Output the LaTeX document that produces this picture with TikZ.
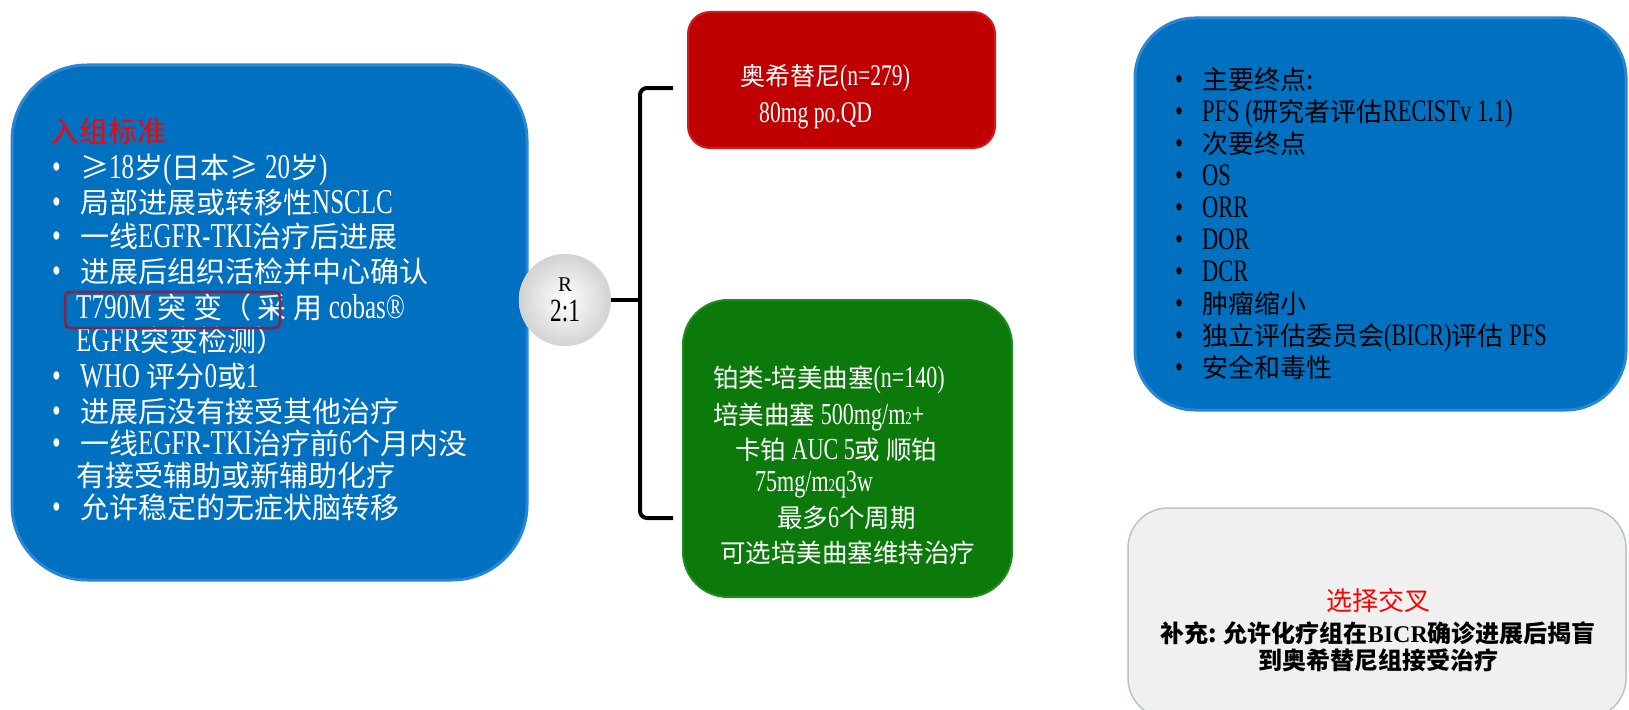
\documentclass[tikz,border=0pt]{standalone}
\usepackage{fontspec}
\setmainfont{Liberation Serif}
\newfontfamily\cjk{Noto Sans CJK SC}
\newfontfamily\lat[FakeStretch=0.72,Scale=1.2]{Liberation Serif}
\newcommand\E[1]{{\lat #1}}
\newcommand\sm[1]{{\fontsize{15}{15}\selectfont #1}}
\newcommand\bl{\makebox[30pt][l]{\hspace*{2pt}{\lat •}}}
\newcommand\ct{\hspace*{26pt}}
\newcommand\br{\makebox[27pt][l]{{\lat •}}}
\definecolor{boxblue}{HTML}{0070C0}
\definecolor{boxblueedge}{HTML}{2A86D4}
\definecolor{boxred}{HTML}{C00000}
\definecolor{boxrededge}{HTML}{D41A1A}
\definecolor{boxgreen}{HTML}{0B7A0B}
\definecolor{boxgreenedge}{HTML}{1E8C1E}
\definecolor{boxgrey}{HTML}{F0F0F0}
\definecolor{boxgreyedge}{HTML}{B4C6C6}
\definecolor{hlred}{HTML}{8E2040}
\tikzset{
  box/.style={rectangle, inner sep=0pt},
  bluebox/.style={box, fill=boxblue, draw=boxblueedge, line width=3pt},
  redbox/.style={box, fill=boxred, draw=boxrededge, line width=2pt, rounded corners=22pt},
  greenbox/.style={box, fill=boxgreen, draw=boxgreenedge, line width=2pt, rounded corners=45pt},
  greybox/.style={box, fill=boxgrey, draw=boxgreyedge, line width=1.5pt, rounded corners=40pt},
  txt/.style={inner sep=0pt, align=left, anchor=west},
  hlbox/.style={rectangle, draw=hlred, line width=2.5pt, rounded corners=5pt, inner sep=0pt},
  randc/.style={circle, inner sep=0pt, minimum size=92pt, shading=radial, inner color=white, outer color=gray!35, draw=gray!25, align=center, font=\rmfamily},
  brk/.style={draw=black, line width=4pt, rounded corners=7pt},
}
\begin{document}
\begin{tikzpicture}[x=1pt,y=-1pt]
\fill[white] (0,0) rectangle (1629,709);
\clip (0,0) rectangle (1629,709);

% boxes
\node[bluebox, rounded corners=75pt, minimum width=515pt, minimum height=515pt] (crit) at (269.5,322.5) {};
\node[redbox, minimum width=307pt, minimum height=136pt] (osi) at (841.5,80) {};
\node[greenbox, minimum width=329pt, minimum height=297pt] (chemo) at (847.5,448.5) {};
\node[bluebox, rounded corners=60pt, minimum width=491pt, minimum height=392pt] (endp) at (1380.5,214) {};
\node[greybox, minimum width=498pt, minimum height=210pt] (cross) at (1377,613) {};

% left text
\node[txt, text=white, font=\cjk\fontsize{29}{34}\selectfont] (crittxt) at (50,319.5) {%
\textcolor{red}{入组标准}\\[2pt]
\bl ≥\E{18}岁\E{(}日本≥ \E{20}岁\E{)}\\[1pt]
\bl 局部进展或转移性\E{NSCLC}\\
\bl 一线\E{EGFR-TKI}治疗后进展\\[1pt]
\bl 进展后组织活检并中心确认\\[2pt]
\ct \E{T790M} 突 变（ 采 用 \E{cobas®}\\[-1pt]
\ct \E{EGFR}突变检测）\\[2pt]
\bl \E{WHO} 评分\E{0}或\E{1}\\[1pt]
\bl 进展后没有接受其他治疗\\[-2pt]
\bl 一线\E{EGFR-TKI}治疗前\E{6}个月内没\\[-2pt]
\ct 有接受辅助或新辅助化疗\\[-2pt]
\bl 允许稳定的无症状脑转移};
\node[hlbox, minimum width=215pt, minimum height=36pt] (hl) at (172.5,310) {};

% red box text
\node[txt, text=white, font=\cjk\fontsize{25}{37}\selectfont] (ositxt) at (740,96.5) {%
奥希替尼\E{(n=279)}\\
\hspace*{19pt}\E{80mg po.QD}};

% green box text
\node[txt, text=white, font=\cjk\fontsize{25.5}{35}\selectfont] (chemotxt) at (713,465.5) {%
铂类\E{-}培美曲塞\E{(n=140)}\\[2pt]
培美曲塞 \E{500mg/m\sm{2}+}\\
\hspace*{22pt}卡铂 \E{AUC 5}或 顺铂\\[-3pt]
\hspace*{42pt}\E{75mg/m\sm{2}q3w}\\[1pt]
\hspace*{64pt}最多\E{6}个周期\\
\hspace*{7pt}可选培美曲塞维持治疗};

% endpoints text
\node[txt, text=black, font=\cjk\fontsize{26}{32}\selectfont] (endptxt) at (1175,223.5) {%
\br 主要终点:\\
\br \E{PFS (}研究者评估\E{RECISTv 1.1)}\\
\br 次要终点\\
\br \E{OS}\\
\br \E{ORR}\\
\br \E{DOR}\\
\br \E{DCR}\\
\br 肿瘤缩小\\
\br 独立评估委员会\E{(BICR)}评估 \E{PFS}\\
\br 安全和毒性};

% crossover text
\node[inner sep=0pt, align=center, text=black, font=\cjk\bfseries\fontsize{24}{27}\selectfont] (crosstxt) at (1378,630) {%
{\mdseries\color{red}\fontsize{26}{27}\selectfont 选择交叉}\\[5pt]
补充: 允许化疗组在{\rmfamily BICR}确诊进展后揭盲\\
到奥希替尼组接受治疗};

% randomisation bracket
\node[randc] (rand) at (565,300) {{\fontsize{21}{22}\selectfont R}\\[8pt]{\lat\fontsize{27}{28}\selectfont 2:1}};
\coordinate (jn) at (640,300);
\coordinate (bt) at (673,88);
\coordinate (bb) at (673,518);
\draw[brk] (bt) -- (bt -| jn) -- (bb -| jn) -- (bb);
\draw[brk] (rand.east) -- (jn);
\end{tikzpicture}
\end{document}
